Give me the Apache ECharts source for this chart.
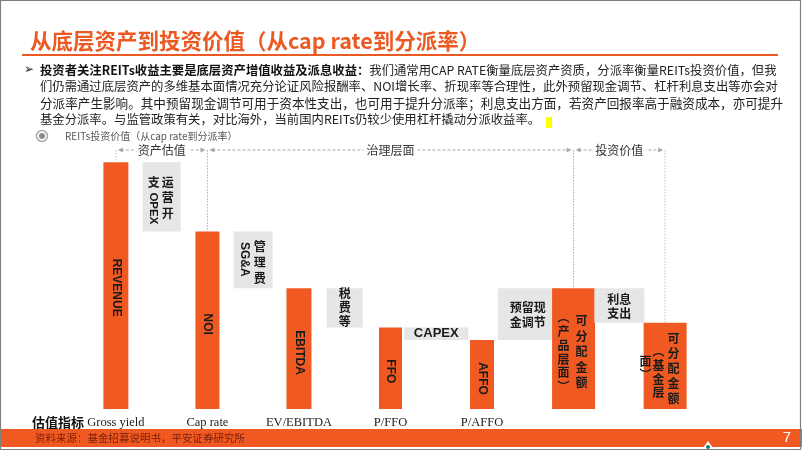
<!DOCTYPE html>
<html><head><meta charset="utf-8">
<script src="https://cdn.jsdelivr.net/npm/echarts@6/dist/echarts.min.js"></script>
<style>html,body{margin:0;padding:0;background:#fff}#c{width:802px;height:451px}</style>
</head><body><div id="c"></div>
<script>
// ---------- data ----------
const categories = ['REVENUE','运营开支OPEX','NOI','管理费SG&A','EBITDA','税费等','FFO','CAPEX','AFFO','预留现金调节','可分配金额（产品层面）','利息支出','可分配金额（基金层面）'];
const stepKinds  = ['total','change','total','change','total','change','total','change','total','change','total','change','total'];
const stepValues = [100, -28, 72, -23, 49, -16, 33, -5, 28, 21, 49, -14, 35];
const tickLabels = ['Gross yield','','Cap rate','','EV/EBITDA','','P/FFO','','P/AFFO','','','',''];
const sectionNames = ['资产估值','治理层面','投资价值'];
const sectionFrom  = [0, 2, 10];
const sectionTo    = [2, 10, 12];

// ---------- styles ----------
const ORANGE = '#F05A22', GREY = '#E6E6E6', TITLE = '#EC5A24';
const CJK = '"Noto Sans CJK SC", sans-serif';
const LAT = '"Liberation Sans", Arial, sans-serif';
const barWidths = [25,38,24,39,25,36,23,64,24,60,43,50,43];
const barLabels = {
  0: [{t:'REVENUE', rot:true, dx:0, dy:2, f:'bold 12px '+LAT}],
  1: [{t:'运\n营\n开', dx:6, dy:1, lh:15.5}, {t:'支', dx:-8, dy:-14.5}, {t:'OPEX', rot:true, dx:-8, dy:11.5, f:'bold 11.5px '+LAT}],
  2: [{t:'NOI', rot:true, dx:0, dy:4, f:'bold 12px '+LAT}],
  3: [{t:'管\n理\n费', dx:6.5, dy:3, lh:16}, {t:'SG&A', rot:true, dx:-8.5, dy:-0.5, f:'bold 12px '+LAT}],
  4: [{t:'EBITDA', rot:true, dx:0, dy:4, f:'bold 12px '+LAT}],
  5: [{t:'税\n费\n等', dx:0, dy:-0.5, lh:14}],
  6: [{t:'FFO', rot:true, dx:0, dy:3, f:'bold 12px '+LAT}],
  7: [{t:'CAPEX', dx:0, dy:0, f:'bold 13px '+LAT}],
  8: [{t:'AFFO', rot:true, dx:0, dy:4, f:'bold 12px '+LAT}],
  9: [{t:'预留现\n金调节', dx:0, dy:0.5, lh:15}],
  10:[{t:'可\n分\n配\n金\n额', dx:8, dy:3, lh:15.5}, {t:'︵\n产\n品\n层\n面\n︶', dx:-10, dy:3.5, lh:13.8}],
  11:[{t:'利息\n支出', dx:0, dy:1, lh:13.5}],
  12:[{t:'可\n分\n配\n金\n额', dx:8.5, dy:2.5, lh:15}, {t:'︵\n基\n金\n层', dx:-6.5, dy:6.5, lh:13.7}, {t:'面\n︶', dx:-19.5, dy:2, lh:13}]
};

// ---------- waterfall from values ----------
let run = 0;
const wf = stepValues.map((v, i) => {
  if (stepKinds[i] === 'total') { run = v; return [i, 0, v]; }
  const lo = Math.min(run, run + v), hi = Math.max(run, run + v);
  run += v; return [i, lo, hi];
});
const headerLevel = 105;

function renderBar(params, api) {
  const i = params.dataIndex;
  const top = api.coord([api.value(0), api.value(2)]);
  const bot = api.coord([api.value(0), api.value(1)]);
  const w = barWidths[i];
  const cx = top[0], cy = (top[1] + bot[1]) / 2;
  const children = [{
    type: 'rect', shape: {x: cx - w/2, y: top[1], width: w, height: bot[1] - top[1]},
    style: {fill: stepKinds[i] === 'total' ? ORANGE : GREY}
  }];
  (barLabels[i] || []).forEach(l => {
    children.push({
      type: 'text', x: cx + l.dx, y: cy + l.dy, rotation: l.rot ? -Math.PI/2 : 0,
      style: {text: l.t, font: l.f || ('bold 12px ' + CJK), fill: '#1a1a1a', align: 'center', verticalAlign: 'middle', lineHeight: l.lh || 14}
    });
  });
  return {type: 'group', children};
}

function renderSection(params, api) {
  const i = params.dataIndex;
  const f = api.value(0), t = api.value(1);
  const a = api.coord([f, headerLevel]), b = api.coord([t, headerLevel]);
  const y = a[1], x0 = a[0] + 2, x1 = b[0] - 2, mid = (x0 + x1) / 2;
  const ta = api.coord([f, wf[f][2]]), tb = api.coord([t, wf[t][2]]);
  const dash = {stroke: '#a8a8a8', lineWidth: 1, lineDash: [3, 2]};
  const dot = {stroke: '#bdbdbd', lineWidth: 1, lineDash: [1.5, 1.5]};
  return {type: 'group', children: [
    {type: 'line', shape: {x1: a[0], y1: y, x2: a[0], y2: ta[1]}, style: dot},
    {type: 'line', shape: {x1: b[0], y1: y, x2: b[0], y2: tb[1]}, style: dot},
    {type: 'line', shape: {x1: x0 + 3, y1: y, x2: x1 - 3, y2: y}, style: dash},
    {type: 'polygon', shape: {points: [[x0, y], [x0 + 5, y - 2.5], [x0 + 5, y + 2.5]]}, style: {fill: '#a8a8a8'}},
    {type: 'polygon', shape: {points: [[x1, y], [x1 - 5, y - 2.5], [x1 - 5, y + 2.5]]}, style: {fill: '#a8a8a8'}},
    {type: 'text', x: mid, y: y, style: {text: sectionNames[i], font: '12px ' + CJK, fill: '#333', align: 'center', verticalAlign: 'middle', backgroundColor: '#fff', padding: [1, 3]}}
  ]};
}

const line1b = '投资者关注REITs收益主要是底层资产增值收益及派息收益：';
const line1n = '我们通常用CAP RATE衡量底层资产资质，分派率衡量REITs投资价值，但我';
const bodyLines = [
  '们仍需通过底层资产的多维基本面情况充分论证风险报酬率、NOI增长率、折现率等合理性，此外预留现金调节、杠杆利息支出等亦会对',
  '分派率产生影响。其中预留现金调节可用于资本性支出，也可用于提升分派率；利息支出方面，若资产回报率高于融资成本，亦可提升',
  '基金分派率。与监管政策有关，对比海外，当前国内REITs仍较少使用杠杆撬动分派收益率。'
];
const BODY = '12.35px ' + CJK;
const BODY3 = '12.6px ' + CJK;

const chart = echarts.init(document.getElementById('c'), null, {renderer: 'canvas'});
chart.setOption({
  animation: false,
  backgroundColor: '#fff',
  grid: {left: 93, width: 595, top: 150, height: 259},
  xAxis: {
    type: 'category', data: categories,
    axisLine: {show: false}, axisTick: {show: false}, splitLine: {show: false},
    axisLabel: {interval: 0, margin: 7, fontFamily: '"Liberation Serif", serif', fontSize: 12.5, color: '#222',
      formatter: (v, idx) => tickLabels[idx]}
  },
  yAxis: {type: 'value', min: 0, max: headerLevel, show: false},
  series: [
    {type: 'custom', renderItem: renderBar, data: wf, encode: {x: 0, y: [1, 2]}, z: 2},
    {type: 'custom', renderItem: renderSection, data: sectionFrom.map((f, k) => [f, sectionTo[k]]), encode: {x: [0, 1]}, z: 3}
  ],
  graphic: [
    {type: 'text', x: 30, y: 41, style: {text: '从底层资产到投资价值（从cap rate到分派率）', font: 'bold 21.5px ' + CJK, fill: TITLE, verticalAlign: 'middle'}},
    {type: 'rect', shape: {x: 22, y: 54, width: 756, height: 2}, style: {fill: TITLE}},
    {type: 'text', x: 24, y: 70, style: {text: '➢', font: '12px "DejaVu Sans"', fill: '#222', verticalAlign: 'middle'}},
    {type: 'text', x: 40, y: 70, style: {text: '{b|' + line1b + '}{n|' + line1n + '}', verticalAlign: 'middle',
      rich: {b: {font: 'bold ' + BODY, fill: '#111'}, n: {font: BODY, fill: '#222'}}}},
    {type: 'text', x: 40, y: 86.5, style: {text: bodyLines[0], font: BODY, fill: '#222', verticalAlign: 'middle'}},
    {type: 'text', x: 40, y: 103, style: {text: bodyLines[1], font: BODY3, fill: '#222', verticalAlign: 'middle'}},
    {type: 'text', x: 40, y: 119.5, style: {text: bodyLines[2], font: BODY, fill: '#222', verticalAlign: 'middle'}},
    {type: 'rect', shape: {x: 546, y: 117, width: 6, height: 11}, style: {fill: '#FFFF00'}},
    {type: 'circle', shape: {cx: 42, cy: 136, r: 5.5}, style: {fill: '#fff', stroke: '#aaa', lineWidth: 1.5}},
    {type: 'circle', shape: {cx: 42, cy: 136, r: 3}, style: {fill: '#8a8a8a'}},
    {type: 'text', x: 65, y: 136, style: {text: 'REITs投资价值（从cap rate到分派率）', font: '10px ' + CJK, fill: '#555', verticalAlign: 'middle'}},
    {type: 'text', x: 58, y: 422, style: {text: '估值指标', font: 'bold 13px ' + CJK, fill: '#111', align: 'center', verticalAlign: 'middle'}},
    {type: 'rect', shape: {x: 0, y: 429, width: 802, height: 18}, style: {fill: ORANGE}},
    {type: 'text', x: 35, y: 438, style: {text: '资料来源：基金招募说明书，平安证券研究所', font: '10.5px ' + CJK, fill: '#7A1E08', verticalAlign: 'middle'}},
    {type: 'text', x: 787, y: 438, style: {text: '7', font: '15px ' + LAT, fill: '#fff', align: 'center', verticalAlign: 'middle'}},
    {type: 'polygon', shape: {points: [[701, 451], [708, 441], [715, 451]]}, style: {fill: '#fff'}},
    {type: 'circle', shape: {cx: 708, cy: 447, r: 2}, style: {fill: '#0E7C7B'}},
    {type: 'rect', shape: {x: 0.5, y: 0.5, width: 800, height: 449}, style: {fill: 'none', stroke: '#808080', lineWidth: 1.2}}
  ]
});
</script></body></html>
